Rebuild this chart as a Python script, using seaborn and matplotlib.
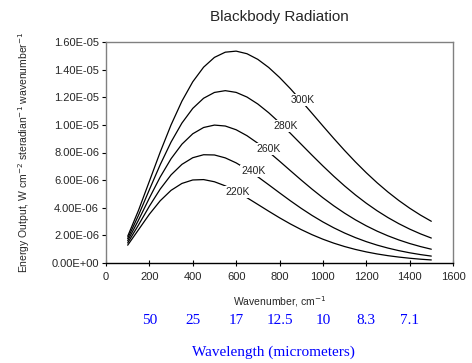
import numpy as np
import pandas as pd
import matplotlib
matplotlib.use("Agg")
import matplotlib.pyplot as plt
import matplotlib.transforms as mtransforms
from matplotlib.ticker import FuncFormatter
import seaborn as sns

# ---- data (units of 1e-6 W cm^-2 sr^-1 (cm^-1)^-1) ----
wavenumber = [100, 150, 200, 250, 300, 350, 400, 450, 500, 550, 600, 650, 700, 750,
              800, 850, 900, 950, 1000, 1050, 1100, 1150, 1200, 1250, 1300, 1350,
              1400, 1450, 1500]
e300 = [1.935, 3.817, 5.920, 8.032, 10.000, 11.717, 13.120, 14.177, 14.886, 15.263,
        15.339, 15.151, 14.743, 14.158, 13.438, 12.623, 11.746, 10.838, 9.923, 9.022,
        8.150, 7.319, 6.537, 5.809, 5.139, 4.526, 3.970, 3.469, 3.021]
e280 = [1.773, 3.461, 5.309, 7.121, 8.757, 10.130, 11.192, 11.928, 12.348, 12.477,
        12.352, 12.015, 11.511, 10.881, 10.163, 9.393, 8.598, 7.804, 7.028, 6.284,
        5.582, 4.929, 4.329, 3.782, 3.289, 2.848, 2.456, 2.110, 1.807]
e260 = [1.611, 3.108, 4.706, 6.227, 7.549, 8.601, 9.355, 9.810, 9.985, 9.917,
        9.647, 9.217, 8.670, 8.045, 7.375, 6.688, 6.007, 5.348, 4.724, 4.143,
        3.610, 3.126, 2.692, 2.306, 1.967, 1.670, 1.412, 1.190, 0.998]
e240 = [1.450, 2.757, 4.113, 5.353, 6.380, 7.140, 7.622, 7.838, 7.821, 7.610,
        7.249, 6.780, 6.241, 5.666, 5.081, 4.506, 3.957, 3.444, 2.974, 2.550,
        2.171, 1.838, 1.547, 1.295, 1.080, 0.896, 0.740, 0.609, 0.500]
e220 = [1.290, 2.411, 3.531, 4.506, 5.260, 5.760, 6.011, 6.039, 5.882, 5.584,
        5.186, 4.728, 4.241, 3.751, 3.275, 2.829, 2.419, 2.050, 1.723, 1.438,
        1.192, 0.982, 0.804, 0.655, 0.531, 0.429, 0.345, 0.276, 0.221]
temps = ["300K", "280K", "260K", "240K", "220K"]
label_x = [906, 828, 749, 680, 606]
label_y = [11.80e-6, 9.92e-6, 8.25e-6, 6.66e-6, 5.14e-6]
wl_pos = [200, 400, 600, 800, 1000, 1200, 1400]
wl_labels = ["50", "25", "17", "12.5", "10", "8.3", "7.1"]

series = {"300K": e300, "280K": e280, "260K": e260, "240K": e240, "220K": e220}
rows = []
for t in temps:
    for w, v in zip(wavenumber, series[t]):
        rows.append({"wavenumber": w, "energy": v * 1e-6, "T": t})
df = pd.DataFrame(rows)

sns.set_style("ticks")
plt.rcParams["font.family"] = ["Liberation Sans", "DejaVu Sans"]

fig = plt.figure(figsize=(4.72, 3.63), dpi=100)
ax = fig.add_axes([106 / 472, 1 - 263 / 363, 347 / 472, 221 / 363])

sns.lineplot(data=df, x="wavenumber", y="energy", hue="T",
             palette={t: "black" for t in temps}, linewidth=0.9,
             legend=False, ax=ax)

for t, lx, ly in zip(temps, label_x, label_y):
    ax.text(lx, ly, t, fontsize=7.5, ha="center", va="center", color="#222222",
            bbox=dict(facecolor="white", edgecolor="none", pad=1.0), zorder=5)

ax.set_xlim(0, 1600)
ax.set_ylim(0, 1.6e-5)
ax.set_xticks(np.arange(0, 1601, 200))
ax.set_yticks(np.arange(0, 1.61e-5, 2e-6))
ax.yaxis.set_major_formatter(FuncFormatter(lambda v, p: "{:.2E}".format(v)))

for s in ["top", "right", "left"]:
    ax.spines[s].set_color("#808080")
    ax.spines[s].set_linewidth(1.0)
ax.spines["bottom"].set_color("black")
ax.spines["bottom"].set_linewidth(1.0)

ax.tick_params(axis="x", direction="inout", length=5, width=0.8, color="black",
               labelsize=8, pad=4)
ax.tick_params(axis="y", direction="out", length=3, width=0.8, color="black",
               labelsize=8, pad=2)

ax.set_xlabel("Wavenumber, cm$^{-1}$", fontsize=7.5, labelpad=9)
ax.set_ylabel("Energy Output, W cm$^{-2}$ steradian$^{-1}$ wavenumber$^{-1}$",
              fontsize=7.5, labelpad=14)
ax.set_title("Blackbody Radiation", fontsize=11, pad=15)

trans = mtransforms.blended_transform_factory(ax.transData, ax.transAxes)
for p, lab in zip(wl_pos, wl_labels):
    ax.text(p, -0.258, lab, transform=trans, ha="center", va="center",
            color="#0000ff", fontsize=11, family="Liberation Serif")
fig.text(273 / 472, 1 - 352 / 363, "Wavelength (micrometers)", ha="center",
         va="center", color="#0000ff", fontsize=11, family="Liberation Serif")

fig.savefig("out.png", dpi=100)
